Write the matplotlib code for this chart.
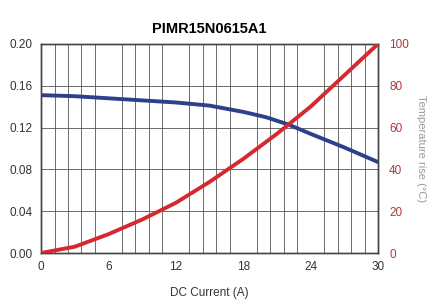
import matplotlib.pyplot as plt
import numpy as np

plt.rcParams['font.family'] = ['Liberation Sans', 'DejaVu Sans']

current = [0, 3, 6, 9, 12, 15, 18, 20, 22, 24, 27, 30]
inductance = [0.151, 0.150, 0.148, 0.146, 0.144, 0.141, 0.135, 0.130, 0.123, 0.114, 0.101, 0.087]
temp_current = [0, 3, 6, 9, 12, 15, 18, 21, 24, 27, 30]
temp_rise = [0, 3, 9, 16, 24, 34, 45, 57, 70, 85, 100]

fig = plt.figure(figsize=(4.32, 3.03), dpi=100)
ax = fig.add_axes([0.095, 0.165, 0.78, 0.69])
ax2 = ax.twinx()

ax.plot(current, inductance, color='#2e3f8c', lw=2.8, solid_capstyle='round', zorder=3)
ax2.plot(temp_current, temp_rise, color='#d42a2f', lw=2.8, solid_capstyle='round', zorder=3)

ax.set_xlim(0, 30)
ax.set_ylim(0, 0.2)
ax2.set_ylim(0, 100)
ax.set_xticks(np.arange(0, 31, 6))
ax.set_xticks(np.arange(0, 30.1, 1.2), minor=True)
ax.set_yticks(np.arange(0, 0.201, 0.04))
ax2.set_yticks(np.arange(0, 101, 20))
ax.yaxis.set_major_formatter(plt.FormatStrFormatter('%.2f'))

ax.grid(True, which='minor', axis='x', color='#555555', lw=0.6)
ax.grid(True, which='major', axis='y', color='#555555', lw=0.6)
ax.tick_params(which='both', length=0)
ax2.tick_params(length=0)
ax.tick_params(labelsize=8.5, colors='#333333', pad=6)
ax2.tick_params(labelsize=8.5, colors='#b0363c', pad=8)
for a in (ax, ax2):
    for s in a.spines.values():
        s.set_color('#444444')
        s.set_linewidth(1.0)

ax.set_title('PIMR15N0615A1', fontsize=10.5, fontweight='bold', pad=8)
ax.set_xlabel('DC Current (A)', fontsize=8.5, color='#333333', labelpad=10)
ax2.set_ylabel('Temperature rise (°C)', fontsize=8, color='#999999', rotation=-90, labelpad=12)

fig.savefig('out.png', dpi=100)
